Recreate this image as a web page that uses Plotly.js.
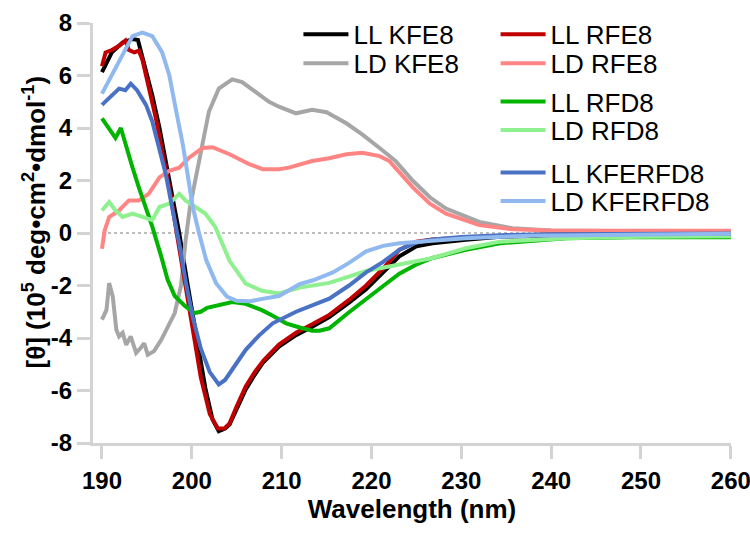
<!DOCTYPE html>
<html>
<head>
<meta charset="utf-8">
<script src="https://cdn.plot.ly/plotly-3.0.1.min.js"></script>
<style>html,body{margin:0;padding:0;background:#fff;}#chart{width:750px;height:533px;}</style>
</head>
<body>
<div id="chart"></div>
<script>
// ---- Data (wavelength in nm, mean residue ellipticity in 10^5 deg·cm²·dmol⁻¹) ----
const seriesNames = ["LL KFE8", "LD KFE8", "LL RFE8", "LD RFE8", "LL RFD8", "LD RFD8", "LL KFERFD8", "LD KFERFD8"];

const wlLLKFE8 = [190, 190.4, 191.1, 192.3, 193.4, 194.0, 194.3, 194.9, 195.6, 196.4, 197.1, 197.8, 198.6, 199.5, 200.5, 201.5, 202.3, 203.0, 203.7, 204.2, 205.0, 206.0, 207.0, 207.9, 209.7, 211.6, 213.4, 215.3, 217.5, 219.4, 221.3, 223.1, 225.0, 226.8, 230.5, 234.3, 240, 250, 260];
const cdLLKFE8 = [6.13, 6.38, 6.88, 7.26, 7.39, 7.35, 6.97, 6.25, 5.25, 4.0, 2.74, 1.49, 0.0, -1.9, -4.0, -5.9, -7.1, -7.55, -7.45, -7.3, -6.7, -5.96, -5.4, -4.95, -4.33, -3.89, -3.57, -3.2, -2.65, -2.14, -1.5, -0.89, -0.51, -0.39, -0.26, -0.14, -0.1, -0.07, -0.05];

const wlLDKFE8 = [190, 190.5, 190.8, 191.2, 191.6, 191.9, 192.3, 192.7, 193.2, 193.8, 194.3, 194.7, 195.1, 195.8, 196.6, 197.3, 198.1, 198.8, 199.3, 199.8, 200.8, 201.9, 203.0, 204.5, 205.6, 207.1, 208.6, 209.7, 211.6, 213.4, 215.0, 217.2, 219.0, 220.9, 222.7, 224.6, 226.5, 228.3, 232.0, 235.7, 240, 250, 260];
const cdLDKFE8 = [-3.3, -2.93, -1.91, -2.42, -3.69, -3.94, -3.8, -4.26, -3.94, -4.57, -4.38, -4.2, -4.64, -4.5, -4.07, -3.56, -3.05, -2.0, -0.3, 1.0, 2.74, 4.62, 5.5, 5.85, 5.75, 5.38, 5.0, 4.81, 4.56, 4.69, 4.6, 4.18, 3.75, 3.24, 2.74, 1.99, 1.36, 0.93, 0.42, 0.18, 0.1, 0.07, 0.06];

const wlLLRFE8 = [190, 190.4, 191.1, 191.9, 192.6, 193.0, 193.6, 194.1, 194.5, 195.2, 196.0, 196.7, 197.5, 198.2, 199.0, 200.0, 201.0, 202.0, 202.9, 203.6, 204.2, 205, 206, 207, 208, 209.7, 211.6, 213.4, 215.3, 217.5, 219.4, 221.3, 223.1, 225, 226.8, 230.5, 235, 240, 250, 260];
const cdLLRFE8 = [6.35, 6.88, 6.97, 7.13, 7.33, 6.97, 6.88, 6.95, 6.6, 5.6, 4.37, 3.12, 1.74, 0.24, -1.45, -3.5, -5.5, -6.9, -7.45, -7.45, -7.25, -6.6, -5.85, -5.3, -4.85, -4.25, -3.8, -3.48, -3.12, -2.55, -2.0, -1.35, -0.64, -0.33, -0.25, -0.17, -0.1, -0.05, -0.02, 0.0];

const wlLDRFE8 = [190, 190.3, 190.8, 191.9, 193.0, 194.1, 195.2, 196.4, 197.5, 198.6, 199.7, 201.2, 202.3, 204.2, 206.4, 207.9, 209.7, 210.8, 213.4, 215.3, 217.2, 219.0, 220.9, 222.0, 224.6, 226.5, 228.3, 232.0, 235.7, 240, 250, 260];
const cdLDRFE8 = [-0.6, 0.1, 0.61, 0.86, 1.24, 1.24, 1.49, 2.12, 2.37, 2.49, 2.87, 3.24, 3.27, 3.0, 2.62, 2.43, 2.43, 2.49, 2.74, 2.85, 3.0, 3.06, 2.93, 2.74, 1.74, 1.12, 0.74, 0.3, 0.14, 0.1, 0.09, 0.09];

const wlLLRFD8 = [190, 190.8, 191.5, 192.1, 192.6, 193.4, 194.1, 194.9, 195.6, 196.6, 197.3, 198.1, 199.2, 200.3, 201.0, 201.7, 202.5, 203.5, 204.5, 206, 207.8, 209, 210.5, 212, 213.4, 214.2, 215.3, 217.5, 219.4, 221.3, 223.1, 225, 226.8, 230.5, 234.3, 241.7, 249.1, 260];
const cdLLRFD8 = [4.37, 4.0, 3.62, 4.0, 3.37, 2.49, 1.74, 0.99, 0.24, -0.9, -1.77, -2.4, -2.77, -3.05, -3.0, -2.85, -2.78, -2.7, -2.63, -2.7, -2.94, -3.15, -3.44, -3.6, -3.72, -3.72, -3.63, -3.02, -2.5, -2.02, -1.55, -1.2, -0.95, -0.64, -0.39, -0.2, -0.16, -0.16];

const wlLDRFD8 = [190, 190.8, 191.5, 192.3, 193.4, 194.5, 195.6, 196.4, 197.5, 198.6, 199.3, 200.4, 201.5, 202.6, 203.4, 204.2, 206.0, 207.8, 209.7, 212, 215.3, 219.4, 223.1, 226.8, 230.5, 234.3, 241.7, 250, 260];
const cdLDRFD8 = [0.86, 1.18, 0.86, 0.61, 0.74, 0.61, 0.49, 0.99, 1.12, 1.49, 1.24, 0.99, 0.74, 0.24, -0.4, -1.06, -1.93, -2.2, -2.3, -2.08, -1.9, -1.45, -1.2, -0.95, -0.58, -0.33, -0.2, -0.14, -0.12];

const wlLLKFERFD8 = [190, 190.8, 191.9, 192.6, 193.2, 193.9, 194.9, 195.6, 196.4, 197.1, 197.8, 198.6, 199.4, 200.1, 201.0, 202.0, 203.0, 203.7, 204.5, 206, 207.5, 209, 211.6, 213.5, 215.3, 217.5, 219.4, 221.3, 223.1, 225, 226.8, 230, 235, 240, 250, 260];
const cdLLKFERFD8 = [4.88, 5.12, 5.5, 5.44, 5.69, 5.44, 4.88, 4.25, 3.24, 2.24, 0.99, -0.4, -2.0, -3.2, -4.4, -5.3, -5.77, -5.6, -5.2, -4.45, -3.9, -3.44, -3.0, -2.75, -2.5, -2.0, -1.5, -1.1, -0.64, -0.36, -0.25, -0.15, -0.08, -0.05, -0.03, -0.02];

const wlLDKFERFD8 = [190, 191.1, 192.3, 193.4, 194.5, 195.6, 196.7, 197.5, 198.2, 199.0, 199.7, 200.1, 200.8, 201.6, 202.7, 203.9, 205.0, 206.5, 208, 209.7, 212, 213.5, 215.7, 217.5, 219.4, 221.3, 223.1, 226.8, 230.5, 237.9, 250, 260];
const cdLDKFERFD8 = [5.31, 6.0, 6.76, 7.5, 7.63, 7.5, 6.88, 6.0, 4.75, 3.37, 1.87, 1.0, 0.0, -1.03, -1.91, -2.42, -2.58, -2.6, -2.5, -2.4, -1.95, -1.8, -1.5, -1.14, -0.7, -0.49, -0.39, -0.3, -0.2, -0.1, -0.05, -0.03];

const xTickVals = [190, 200, 210, 220, 230, 240, 250, 260];
const yTickVals = [-8, -6, -4, -2, 0, 2, 4, 6, 8];

// ---- Styling ----
const wlSets = [wlLLKFE8, wlLDKFE8, wlLLRFE8, wlLDRFE8, wlLLRFD8, wlLDRFD8, wlLLKFERFD8, wlLDKFERFD8];
const cdSets = [cdLLKFE8, cdLDKFE8, cdLLRFE8, cdLDRFE8, cdLLRFD8, cdLDRFD8, cdLLKFERFD8, cdLDKFERFD8];
const colors = ["#000000", "#a6a6a6", "#c00000", "#ff8585", "#00b400", "#8ff08f", "#4a72c4", "#8fb9ef"];
const legendPos = [
  [0.322, 0.9708], [0.322, 0.9019],
  [0.631, 0.9708], [0.631, 0.9019],
  [0.631, 0.8107], [0.631, 0.7435],
  [0.631, 0.642], [0.631, 0.5748]
];

const FONT = "Liberation Sans, Arial, Helvetica, sans-serif";
const AXIS_GRAY = "#d3d3d3";

const traces = seriesNames.map((name, i) => ({
  type: "scatter",
  mode: "lines",
  name: name,
  x: wlSets[i],
  y: cdSets[i],
  line: { color: colors[i], width: 4 },
  legend: i === 0 ? "legend" : "legend" + (i + 1)
}));

const layout = {
  width: 750,
  height: 533,
  margin: { l: 93, r: 19, t: 22, b: 90 },
  paper_bgcolor: "#ffffff",
  plot_bgcolor: "#ffffff",
  font: { family: FONT, color: "#000000" },
  showlegend: true,
  xaxis: {
    range: [189, 260.02],
    tickvals: xTickVals,
    ticktext: xTickVals.map(String),
    ticks: "outside",
    ticklen: 13,
    tickwidth: 3,
    tickcolor: AXIS_GRAY,
    ticklabeloverflow: "allow",
    ticklabelstandoff: 1,
    showline: true,
    linecolor: AXIS_GRAY,
    linewidth: 3,
    showgrid: false,
    zeroline: false,
    tickfont: { family: FONT, size: 24, color: "#000000", weight: "bold" },
    title: { text: "<b>Wavelength (nm)</b>", font: { family: FONT, size: 26, color: "#000000" }, standoff: 7 }
  },
  yaxis: {
    range: [-8, 8],
    tickvals: yTickVals,
    ticktext: yTickVals.map(String),
    ticks: "outside",
    ticklen: 13,
    tickwidth: 3,
    tickcolor: AXIS_GRAY,
    ticklabeloverflow: "allow",
    showline: true,
    linecolor: AXIS_GRAY,
    linewidth: 3,
    showgrid: false,
    zeroline: false,
    tickfont: { family: FONT, size: 24, color: "#000000", weight: "bold" }
  },
  shapes: [{
    type: "line", xref: "x", yref: "y", x0: 190, x1: 260, y0: 0, y1: 0,
    line: { color: "#bdbdbd", width: 2, dash: "dot" }, layer: "below"
  }],
  annotations: [{
    xref: "paper", yref: "paper", x: -0.0909, y: 0.525,
    xanchor: "center", yanchor: "middle", textangle: -90, showarrow: false,
    text: "<b>[θ] (10<sup>5</sup> deg•cm<sup>2</sup>•dmol<sup>-1</sup>)</b>",
    font: { family: FONT, size: 26, color: "#000000" }
  }]
};

legendPos.forEach((p, i) => {
  const key = i === 0 ? "legend" : "legend" + (i + 1);
  layout[key] = {
    x: p[0], y: p[1], xanchor: "left", yanchor: "middle",
    bgcolor: "rgba(0,0,0,0)", borderwidth: 0,
    itemwidth: 45,
    font: { family: FONT, size: 26, color: "#000000" }
  };
});

Plotly.newPlot("chart", traces, layout, { displayModeBar: false, staticPlot: true });
</script>
</body>
</html>
